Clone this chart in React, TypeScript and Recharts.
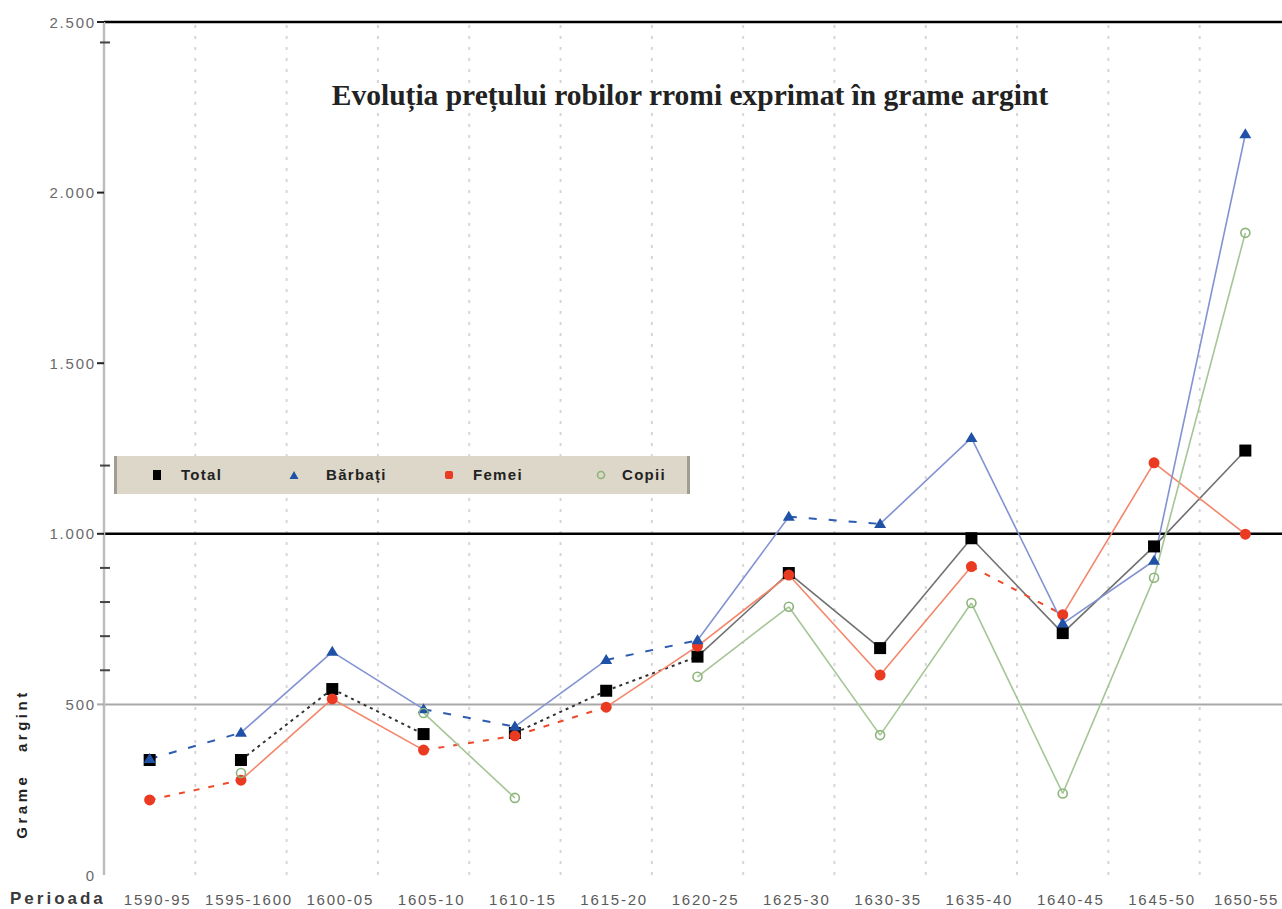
import React from 'react';
import { LineChart, Line, XAxis, YAxis, ReferenceLine } from 'recharts';

const categories = ['1590-95', '1595-1600', '1600-05', '1605-10', '1610-15', '1615-20', '1620-25', '1625-30', '1630-35', '1635-40', '1640-45', '1645-50', '1650-55'];

const total = [337, 337, 545, 413, 416, 540, 640, 885, 665, 987, 709, 963, 1244];
const barbati = [340, 417, 654, 486, 435, 630, 688, 1050, 1029, 1281, 737, 921, 2171];
const femei = [220, 278, 516, 366, 408, 492, 671, 879, 586, 904, 763, 1208, 999];
const copii = [null, 299, null, 475, 226, null, 581, 786, 410, 797, 239, 871, 1882];

// segment styles between consecutive periods: 's' solid, 'd' dashed, '' none
const totalSegments = ['', 'd', 'd', '', 'd', 'd', 's', 's', 's', 's', 's', 's'];
const barbatiSegments = ['d', 's', 's', 'd', 's', 'd', 's', 'd', 's', 's', 's', 's'];
const femeiSegments = ['d', 's', 's', 'd', 'd', 's', 's', 's', 's', 'd', 's', 's'];
const copiiSegments = ['', '', '', 's', '', '', 's', 's', 's', 's', 's', 's'];

const yMajorTicks = [0, 500, 1000, 1500, 2000, 2500];
const yMajorLabels = ['0', '500', '1.000', '1.500', '2.000', '2.500'];
const yMinorTicks = [600, 700, 800, 900, 1200, 2440];

const seriesDefs = [
  { key: 'total', name: 'Total', values: total, segments: totalSegments, solid: '#707070', dashColor: '#333333', dash: '3 4', marker: 'square' },
  { key: 'femei', name: 'Femei', values: femei, segments: femeiSegments, solid: '#f3866a', dashColor: '#ee4a2a', dash: '6 9', marker: 'dot' },
  { key: 'barbati', name: 'Bărbați', values: barbati, segments: barbatiSegments, solid: '#8393d2', dashColor: '#2c5cb0', dash: '8 12', marker: 'triangle' },
  { key: 'copii', name: 'Copii', values: copii, segments: copiiSegments, solid: '#a6c596', dashColor: '#7faa6c', dash: '6 8', marker: 'ring' },
];

const data = categories.map((c, i) => {
  const row: Record<string, any> = { x: i, cat: c };
  seriesDefs.forEach((s) => {
    row[s.key] = s.values[i];
    s.segments.forEach((seg, j) => {
      if (seg && (j === i || j + 1 === i)) row[`${s.key}_${j}`] = s.values[i];
    });
  });
  return row;
});

const FONT = '"Liberation Sans", Arial, sans-serif';

function drawMarker(kind: string, cx: number, cy: number, key: string) {
  if (kind === 'square') return <rect key={key} x={cx - 6} y={cy - 6} width={12} height={12} fill="#000" />;
  if (kind === 'triangle')
    return <polygon key={key} points={`${cx},${cy - 6} ${cx - 6},${cy + 4} ${cx + 6},${cy + 4}`} fill="#1f52a6" />;
  if (kind === 'dot') return <circle key={key} cx={cx} cy={cy} r={5.5} fill="#ea3a22" />;
  return <circle key={key} cx={cx} cy={cy} r={4.5} fill="none" stroke="#8bb57a" strokeWidth={1.6} />;
}

const XTick = (props: any) => {
  const { x, y, payload } = props;
  const last = payload.value === categories.length - 1;
  return (
    <text x={x + (last ? 1 : 8)} y={y} textAnchor="middle" dominantBaseline="central" fontFamily={FONT} fontSize={15} letterSpacing={last ? 1.4 : 1.8} fill="#5a5a5a">
      {categories[payload.value]}
    </text>
  );
};

const YTick = (props: any) => {
  const { x, y, payload } = props;
  const v = payload.value;
  const idx = yMajorTicks.indexOf(v);
  if (idx >= 0) {
    return (
      <g>
        <text x={x} y={y} textAnchor="end" dominantBaseline="central" fontFamily={FONT} fontSize={15} letterSpacing={1.8} fill="#6a6a6a">
          {yMajorLabels[idx]}
        </text>
        {v > 0 && <line x1={x + 1} x2={x + 8} y1={y} y2={y} stroke={v === 500 ? '#aaa' : '#222'} strokeWidth={2} />}
      </g>
    );
  }
  return <line x1={x + 4} x2={x + 14} y1={y} y2={y} stroke="#444" strokeWidth={2} />;
};

const legendItems = [
  { name: 'Total', marker: 'square', mx: 157, tx: 181 },
  { name: 'Bărbați', marker: 'triangle', mx: 294, tx: 326 },
  { name: 'Femei', marker: 'dot', mx: 449, tx: 473 },
  { name: 'Copii', marker: 'ring', mx: 601, tx: 622 },
];

function LegendMarker({ kind }: { kind: string }) {
  return (
    <svg width={12} height={12} style={{ display: 'block' }}>
      {kind === 'square' && <rect x={2} y={1} width={8} height={10} fill="#000" />}
      {kind === 'triangle' && <polygon points="6,2 1.5,10 10.5,10" fill="#1f52a6" />}
      {kind === 'dot' && <rect x={2} y={2} width={8} height={8} rx={2} fill="#ea3a22" />}
      {kind === 'ring' && <circle cx={6} cy={6} r={3.5} fill="none" stroke="#8bb57a" strokeWidth={1.6} />}
    </svg>
  );
}

export default function App() {
  const verticalGrid = categories.slice(0, -1).map((_, i) => i + 0.5);
  return (
    <div style={{ position: 'fixed', left: 0, top: 0, width: 1282, height: 909, overflow: 'hidden', background: '#fff', fontFamily: FONT }}>
      <LineChart width={1291} height={909} data={data} margin={{ top: 22, right: 0, bottom: 0, left: 0 }}>
        <XAxis
          type="number"
          dataKey="x"
          domain={[-0.5, 12.5]}
          ticks={categories.map((_, i) => i)}
          interval={0}
          axisLine={false}
          tickLine={false}
          tickSize={0}
          tickMargin={24}
          height={34}
          tick={<XTick />}
        />
        <YAxis
          type="number"
          domain={[0, 2500]}
          ticks={[...yMajorTicks, ...yMinorTicks].sort((a, b) => a - b)}
          interval={0}
          width={104}
          axisLine={{ stroke: '#bdbdbd', strokeWidth: 2.5 }}
          tickLine={false}
          tickSize={0}
          tickMargin={8}
          tick={<YTick />}
        />
        {verticalGrid.map((v) => (
          <ReferenceLine key={`g${v}`} x={v} stroke="#d6d6d6" strokeWidth={2} strokeDasharray="3 8" />
        ))}
        <ReferenceLine y={500} stroke="#a8a8a8" strokeWidth={2} />
        <ReferenceLine y={1000} stroke="#000" strokeWidth={2.5} />
        <ReferenceLine y={2500} stroke="#000" strokeWidth={2.5} />
        {seriesDefs.map((s) =>
          s.segments.map((seg, j) =>
            seg ? (
              <Line
                key={`${s.key}_${j}`}
                dataKey={`${s.key}_${j}`}
                type="linear"
                stroke={seg === 'd' ? s.dashColor : s.solid}
                strokeWidth={seg === 'd' ? 2 : 1.6}
                strokeDasharray={seg === 'd' ? s.dash : undefined}
                dot={false}
                activeDot={false}
                isAnimationActive={false}
                legendType="none"
              />
            ) : null
          )
        )}
        {seriesDefs.map((s) => (
          <Line
            key={`m_${s.key}`}
            dataKey={s.key}
            name={s.name}
            type="linear"
            stroke="none"
            activeDot={false}
            isAnimationActive={false}
            dot={(p: any) => {
              const k = `${s.key}-dot-${p.index}`;
              if (p.value == null || p.cy == null || isNaN(p.cy)) return <g key={k} />;
              return drawMarker(s.marker, p.cx, p.cy, k);
            }}
          />
        ))}
      </LineChart>

      <div
        style={{
          position: 'absolute',
          left: 290,
          top: 78,
          width: 800,
          textAlign: 'center',
          fontFamily: '"Liberation Serif", "DejaVu Serif", serif',
          fontWeight: 'bold',
          fontSize: 29.5,
          lineHeight: '34px',
          color: '#222',
          whiteSpace: 'nowrap',
        }}
      >
        Evoluția prețului robilor rromi exprimat în grame argint
      </div>

      <div
        style={{
          position: 'absolute',
          left: 114,
          top: 456,
          width: 576,
          height: 38,
          boxSizing: 'border-box',
          background: '#dcd7c8',
          borderLeft: '3px solid #a29d93',
          borderRight: '3px solid #a29d93',
        }}
      >
        {legendItems.map((it) => (
          <React.Fragment key={it.name}>
            <div style={{ position: 'absolute', left: it.mx - 114 - 6 - 3, top: 13 }}>
              <LegendMarker kind={it.marker} />
            </div>
            <div
              style={{
                position: 'absolute',
                left: it.tx - 114 - 3,
                top: 9,
                fontSize: 15,
                fontWeight: 'bold',
                letterSpacing: 1.3,
                lineHeight: '20px',
                color: '#222',
                whiteSpace: 'nowrap',
              }}
            >
              {it.name}
            </div>
          </React.Fragment>
        ))}
      </div>

      <div
        style={{
          position: 'absolute',
          left: 10,
          top: 889,
          fontSize: 17,
          fontWeight: 'bold',
          letterSpacing: 3,
          lineHeight: '20px',
          color: '#3a3a3a',
          whiteSpace: 'nowrap',
        }}
      >
        Perioada
      </div>

      <div
        style={{
          position: 'absolute',
          left: 22,
          top: 764,
          transform: 'translate(-50%, -50%) rotate(-90deg)',
          fontSize: 15,
          fontWeight: 'bold',
          letterSpacing: 3.5,
          wordSpacing: 14,
          lineHeight: '18px',
          color: '#222',
          whiteSpace: 'nowrap',
        }}
      >
        Grame argint
      </div>
    </div>
  );
}
